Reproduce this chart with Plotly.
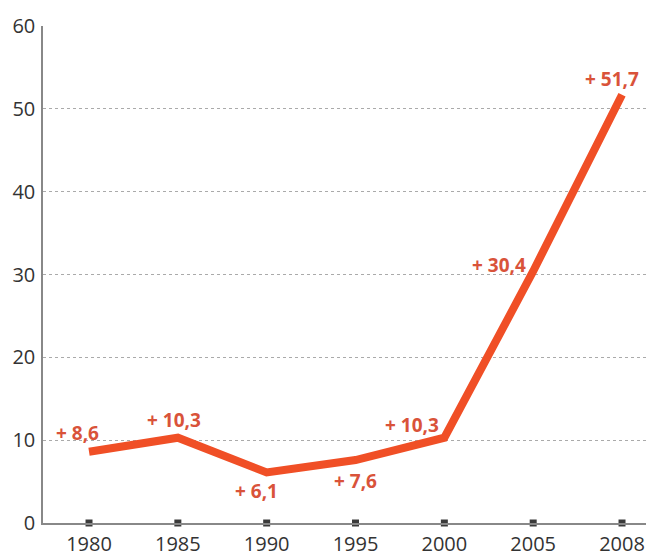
import plotly.graph_objects as go

years = ["1980", "1985", "1990", "1995", "2000", "2005", "2008"]
values = [8.6, 10.3, 6.1, 7.6, 10.3, 30.4, 51.7]
labels = ["+ 8,6", "+ 10,3", "+ 6,1", "+ 7,6", "+ 10,3", "+ 30,4", "+ 51,7"]
label_dx = [-12, -4, -10, 0, -32, -34, -10]
label_dy = [19, 18, -19, -21, 13, 6, 16]

line_color = "#f04f26"
label_color = "#d9533a"

fig = go.Figure()
fig.add_trace(go.Scatter(
    x=years, y=values, mode="lines",
    line=dict(color=line_color, width=8),
    hoverinfo="skip", showlegend=False,
))
fig.add_trace(go.Scatter(
    x=years, y=[0] * len(years), mode="markers",
    marker=dict(symbol="square", size=7, color="#3a3a3a"),
    cliponaxis=False, hoverinfo="skip", showlegend=False,
))

for i, (v, t, dx, dy) in enumerate(zip(values, labels, label_dx, label_dy)):
    fig.add_annotation(
        x=i, y=v, xref="x", yref="y", text="<b>" + t + "</b>", showarrow=False,
        xshift=dx, yshift=dy,
        font=dict(family="Open Sans", size=19, color=label_color),
    )

fig.update_layout(
    width=646, height=544,
    margin=dict(l=35, r=0, t=18, b=29, autoexpand=False),
    paper_bgcolor="white", plot_bgcolor="white",
    font=dict(family="Open Sans", size=20, color="#333333"),
    xaxis=dict(
        type="category", range=[-0.518, 6.36], automargin=False,
        showgrid=False, showline=True, linecolor="#888888", linewidth=1.5,
        ticks="outside", ticklen=2, tickcolor="rgba(0,0,0,0)",
        tickfont=dict(size=20, color="#333333"),
        zeroline=False,
    ),
    yaxis=dict(
        range=[0, 60], tickvals=[0, 10, 20, 30, 40, 50, 60], automargin=False,
        showgrid=True, gridcolor="#aaaaaa", griddash="dot", gridwidth=1,
        showline=True, linecolor="#888888", linewidth=1.5,
        ticks="outside", ticklen=2, tickcolor="rgba(0,0,0,0)",
        tickfont=dict(size=20, color="#333333"),
        zeroline=False,
    ),
)

fig.write_html("out.html")
